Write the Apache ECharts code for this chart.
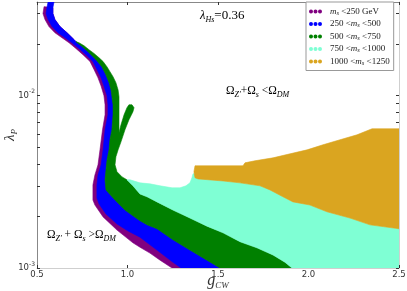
<!DOCTYPE html>
<html><head><meta charset="utf-8">
<script src="https://cdn.jsdelivr.net/npm/echarts@6/dist/echarts.min.js"></script>
<style>html,body{margin:0;padding:0;background:#fff}#c{width:407px;height:291px}</style>
</head><body><div id="c"></div>
<script>
// ---- data (x = g_CW, y = lambda_P) ----
const xTicks = [0.5, 1.0, 1.5, 2.0, 2.5];
const yLabelTicks = [0.001, 0.01];
const yMinorTicks = [0.001,0.002,0.003,0.004,0.005,0.006,0.007,0.008,0.009,0.01,0.02,0.03];
const seriesNames = ['m_s<250', '250<m_s<500', '500<m_s<750', '750<m_s<1000', '1000<m_s<1250'];
const legendLabels = [
  '{i|m}{s|s}{t| <250 GeV}',
  '{t|250 <}{i|m}{s|s}{t| <500}',
  '{t|500 <}{i|m}{s|s}{t| <750}',
  '{t|750 <}{i|m}{s|s}{t| <1000}',
  '{t|1000 <}{i|m}{s|s}{t| <1250}'
];
const colors = ['#800080', '#0000ff', '#008000', '#7fffd4', '#daa520'];

// outer edge of the m_s<250 band (top -> bottom)
const purpleOuter = [[0.539,0.0329],[0.533,0.0300],[0.544,0.0277],[0.566,0.0252],[0.599,0.0232],[0.638,0.0217],[0.677,0.0203],[0.715,0.0188],[0.754,0.0173],[0.793,0.0158],[0.815,0.0142],[0.837,0.0127],[0.854,0.0114],[0.870,0.0100],[0.876,0.00886],[0.876,0.00775],[0.862,0.00634],[0.848,0.00485],[0.837,0.00397],[0.820,0.00347],[0.809,0.00304],[0.809,0.00248],[0.820,0.00232],[0.865,0.00198],[0.942,0.00166],[1.030,0.00140],[1.069,0.00132],[1.124,0.00122],[1.180,0.00111],[1.246,0.001]];
// outer edge of 250<m_s<500 band (top -> bottom)
const blueOuter = [[0.561,0.035],[0.555,0.0325],[0.550,0.0300],[0.561,0.0277],[0.583,0.0252],[0.616,0.0232],[0.655,0.0217],[0.693,0.0203],[0.732,0.0188],[0.771,0.0173],[0.809,0.0158],[0.831,0.0142],[0.854,0.0127],[0.870,0.0114],[0.887,0.0100],[0.892,0.00886],[0.892,0.00775],[0.876,0.00634],[0.865,0.00485],[0.854,0.00397],[0.837,0.00347],[0.831,0.00304],[0.831,0.00255],[0.843,0.00235],[0.881,0.00206],[0.942,0.00180],[1.003,0.00164],[1.069,0.00151],[1.163,0.00127],[1.251,0.00108],[1.296,0.001]];
// right edge of blue band where no green (top -> down)
const blueRightTop = [[0.594,0.035],[0.588,0.0325],[0.588,0.0300],[0.599,0.0277],[0.627,0.0252],[0.666,0.0232],[0.704,0.0212],[0.715,0.0206]];
// outer (lower-left) edge of 500<m_s<750 band (top -> bottom)
const greenLeft = [[0.749,0.0193],[0.782,0.0180],[0.826,0.0162],[0.859,0.0147],[0.881,0.0132],[0.898,0.0119],[0.909,0.0108],[0.914,0.00987],[0.920,0.00886],[0.920,0.00775],[0.914,0.00634],[0.903,0.00555],[0.898,0.00485],[0.887,0.00425],[0.881,0.00371],[0.876,0.00325],[0.881,0.00284],[0.931,0.00248],[0.986,0.00217],[1.030,0.00201],[1.069,0.00188],[1.108,0.00178],[1.163,0.00169],[1.251,0.00146],[1.345,0.00127],[1.439,0.00111],[1.511,0.001]];
// upper-right edge of green band incl. the branch (top -> down)
const greenRight = [[0.715,0.0206],[0.732,0.0203],[0.760,0.0195],[0.787,0.0185],[0.815,0.0176],[0.843,0.0166],[0.865,0.0158],[0.887,0.0147],[0.903,0.0138],[0.920,0.0129],[0.936,0.0119],[0.948,0.0108],[0.953,0.00987],[0.953,0.00829],[0.953,0.00678],[0.953,0.00609],[0.964,0.00678],[0.981,0.00775],[0.997,0.00852],[1.008,0.00886],[1.025,0.00886],[1.036,0.00852],[1.030,0.00807],[1.008,0.00725],[0.986,0.00634],[0.964,0.00540],[0.948,0.00485],[0.936,0.00442],[0.931,0.00397],[0.942,0.00362],[0.970,0.00338]];
// boundary between green and aquamarine (left -> right)
const aquaLow = [[0.997,0.00325],[1.030,0.00300],[1.069,0.00269],[1.108,0.00259],[1.163,0.00242],[1.251,0.00217],[1.345,0.00195],[1.439,0.00175],[1.528,0.00160],[1.622,0.00142],[1.715,0.00131],[1.804,0.00119],[1.870,0.00108],[1.909,0.001]];
// visible top of aquamarine region (right -> left)
const aquaTop = [[1.378,0.00352],[1.362,0.00352],[1.356,0.00334],[1.345,0.00312],[1.323,0.00300],[1.290,0.00292],[1.246,0.00292],[1.180,0.00300],[1.124,0.00308],[1.069,0.00312],[1.014,0.00325]];
// goldenrod region: top edge (left -> right) and bottom edge (right -> left)
const goldTop = [[1.373,0.00334],[1.367,0.00362],[1.373,0.00392],[1.638,0.00392],[1.649,0.00408],[1.704,0.00419],[1.804,0.00436],[1.898,0.00460],[1.992,0.00485],[2.080,0.00519],[2.174,0.00555],[2.268,0.00593],[2.351,0.00643],[2.5,0.00643]];
const goldBottom = [[2.5,0.00169],[2.340,0.00178],[2.229,0.00195],[2.102,0.00212],[2.008,0.00232],[1.914,0.00242],[1.859,0.00259],[1.787,0.00284],[1.732,0.00300],[1.622,0.00312],[1.528,0.00320],[1.390,0.00329]];
const axisCorner = [2.5, 0.001];

// ---- build polygons from the edges ----
const rev = a => a.slice().reverse();
const purplePoly = [].concat(purpleOuter, [greenLeft[greenLeft.length-1]], rev(greenLeft), rev(blueRightTop.slice(1)));
const bluePoly = [].concat(blueOuter, rev(greenLeft), rev(blueRightTop));
const greenPoly = [].concat(greenRight, aquaLow, rev(greenLeft));
const aquaPoly = [].concat(aquaLow, [axisCorner], goldBottom, aquaTop);
const goldPoly = [].concat(goldTop, goldBottom);
const polys = [purplePoly, bluePoly, greenPoly, aquaPoly, goldPoly];

const serif = 'Liberation Serif';
function polySeries(i) {
  const pts = polys[i];
  return {
    type: 'custom', name: seriesNames[i], coordinateSystem: 'cartesian2d',
    data: pts, encode: {x: 0, y: 1}, z: 2 + i, clip: true,
    itemStyle: {color: colors[i]},
    renderItem: function (params, api) {
      if (params.dataIndex !== 0) return null;
      return {type: 'polygon', shape: {points: pts.map(p => api.coord(p))},
        style: {fill: colors[i], stroke: colors[i], lineWidth: 0.6}};
    }
  };
}

const richMath = {
  o: {fontFamily: serif, fontSize: 11.5, color: '#222', lineHeight: 16},
  n: {fontFamily: serif, fontSize: 13, color: '#222', lineHeight: 16},
  i: {fontFamily: serif, fontSize: 12.5, fontStyle: 'italic', color: '#222', lineHeight: 16},
  s: {fontFamily: serif, fontSize: 8, fontStyle: 'italic', color: '#222', lineHeight: 8, verticalAlign: 'bottom'}
};

const chart = echarts.init(document.getElementById('c'), null, {renderer: 'canvas'});
const tickStyle = {inside: true, length: 3, lineStyle: {color: '#333', width: 1}};
chart.setOption({
  animation: false,
  backgroundColor: '#fff',
  grid: {left: 37, right: 8, top: 2, bottom: 23, containLabel: false, outerBoundsMode: 'none'},
  xAxis: [{
    type: 'value', min: 0.5, max: 2.5, interval: 0.5, position: 'bottom',
    axisLine: {show: true, onZero: false, lineStyle: {color: '#cfcfcf', width: 1}},
    axisTick: tickStyle, splitLine: {show: false},
    axisLabel: {customValues: xTicks, formatter: v => v.toFixed(1), fontFamily: 'DejaVu Sans', fontSize: 8.5, color: '#333', margin: 2},
    name: '{g|g}{s|CW}', nameLocation: 'middle', nameGap: 4, nameMoveOverlap: false,
    nameTextStyle: {rich: {
      g: {fontFamily: serif, fontSize: 16, fontStyle: 'italic', color: '#333', lineHeight: 18},
      s: {fontFamily: serif, fontSize: 9, fontStyle: 'italic', color: '#333', lineHeight: 10, verticalAlign: 'bottom'}
    }}
  }, {
    type: 'value', min: 0.5, max: 2.5, interval: 0.5, position: 'top',
    axisLine: {show: true, onZero: false, lineStyle: {color: '#888', width: 1}},
    axisTick: tickStyle, axisLabel: {show: false}, splitLine: {show: false}
  }],
  yAxis: [{
    type: 'log', logBase: 10, min: 0.001, max: 0.035, position: 'left',
    axisLine: {show: true, onZero: false, lineStyle: {color: '#888', width: 1}},
    axisTick: Object.assign({customValues: yMinorTicks}, tickStyle),
    minorTick: {show: false}, splitLine: {show: false},
    axisLabel: {customValues: yLabelTicks, margin: 2,
      formatter: v => '{n|10}{p|' + Math.round(Math.log10(v)) + '}',
      rich: {
        n: {fontFamily: 'DejaVu Sans', fontSize: 8.5, color: '#333', lineHeight: 14},
        p: {fontFamily: 'DejaVu Sans', fontSize: 6, color: '#333', lineHeight: 8, verticalAlign: 'top'}
      }},
    name: '{l|λ}{s|P}', nameLocation: 'middle', nameGap: 18, nameRotate: 90, nameMoveOverlap: false,
    nameTextStyle: {rich: {
      l: {fontFamily: serif, fontSize: 15, fontStyle: 'italic', color: '#333', lineHeight: 18},
      s: {fontFamily: serif, fontSize: 9, fontStyle: 'italic', color: '#333', lineHeight: 10, verticalAlign: 'bottom'}
    }}
  }, {
    type: 'log', logBase: 10, min: 0.001, max: 0.035, position: 'right',
    axisLine: {show: true, onZero: false, lineStyle: {color: '#cfcfcf', width: 1}},
    axisTick: Object.assign({customValues: yMinorTicks}, tickStyle),
    axisLabel: {show: false}, splitLine: {show: false}, minorTick: {show: false}
  }],
  legend: {
    orient: 'vertical', left: 306, top: 2, padding: [5, 4, 4, 3], itemGap: 3,
    itemWidth: 13, itemHeight: 4, borderColor: '#999', borderWidth: 1, backgroundColor: '#fff',
    icon: 'path://M0,2a2,2 0 1,0 4,0a2,2 0 1,0 -4,0M4.5,2a2,2 0 1,0 4,0a2,2 0 1,0 -4,0M9,2a2,2 0 1,0 4,0a2,2 0 1,0 -4,0',
    data: seriesNames,
    formatter: name => legendLabels[seriesNames.indexOf(name)],
    textStyle: {padding: [0, 0, 0, 3], rich: {
      t: {fontFamily: serif, fontSize: 9, color: '#222', lineHeight: 10},
      i: {fontFamily: serif, fontSize: 9, fontStyle: 'italic', color: '#222', lineHeight: 10},
      s: {fontFamily: serif, fontSize: 6.5, fontStyle: 'italic', color: '#222', lineHeight: 6, verticalAlign: 'bottom'}
    }},
    z: 20
  },
  graphic: [
    {type: 'text', left: 200, top: 9, z: 30, style: {text: '{i|λ}{s|Hs}{n|=0.36}', rich: richMath}},
    {type: 'text', left: 226, top: 85, z: 30, style: {text: '{o|Ω}{s|Z′}{o|+Ω}{s|s}{o| <Ω}{s|DM}', rich: richMath}},
    {type: 'text', left: 47, top: 229, z: 30, style: {text: '{o|Ω}{s|Z′}{o| + Ω}{s|s}{o| >Ω}{s|DM}', rich: richMath}}
  ],
  series: [0, 1, 2, 3, 4].map(polySeries)
});
</script></body></html>
